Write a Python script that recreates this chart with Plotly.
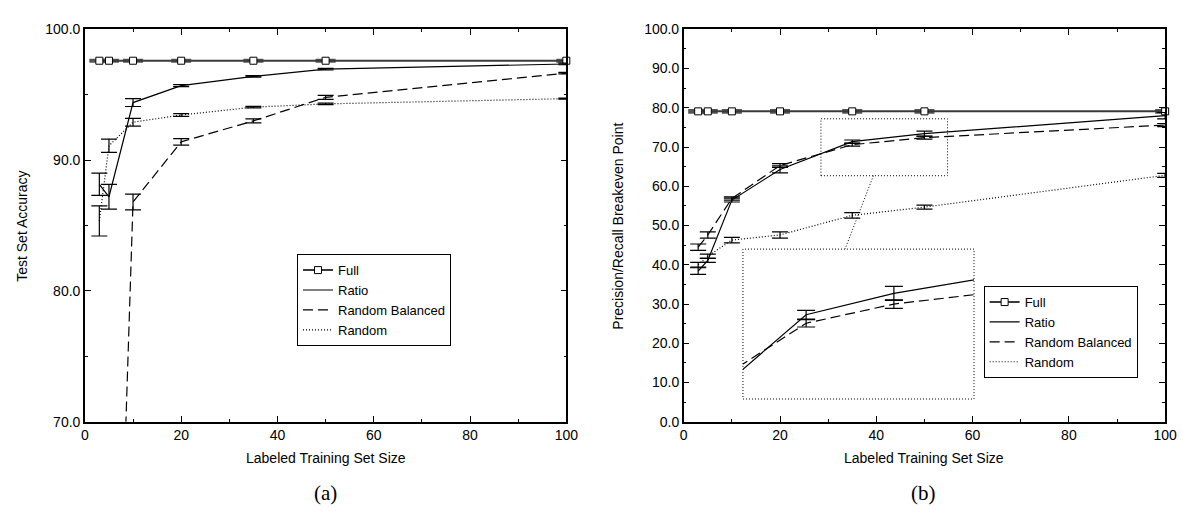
import plotly.graph_objects as go

W, H = 1189, 517

# ---------------- data ----------------
sizes = [3, 5, 10, 20, 35, 50, 100]

# (a) Test set accuracy
acc_full = [97.6, 97.6, 97.6, 97.6, 97.6, 97.6, 97.6]
acc_full_err = [0.06, 0.06, 0.06, 0.06, 0.06, 0.06, 0.06]
acc_ratio = [88.15, 87.2, 94.4, 95.7, 96.4, 96.95, 97.35]
acc_ratio_err = [0.85, 0.95, 0.3, 0.08, 0.06, 0.06, 0.06]
acc_rb = [25.0, 30.0, 86.8, 91.4, 93.0, 94.8, 96.65]
acc_rb_err = [1.0, 1.0, 0.6, 0.25, 0.15, 0.15, 0.06]
acc_random = [85.35, 91.1, 92.9, 93.45, 94.05, 94.3, 94.7]
acc_random_err = [1.15, 0.5, 0.3, 0.1, 0.06, 0.06, 0.04]

# (b) Precision/recall breakeven point
pr_full = [79.1, 79.1, 79.1, 79.1, 79.1, 79.1, 79.1]
pr_full_err = [0.3, 0.3, 0.3, 0.3, 0.3, 0.3, 0.3]
pr_ratio = [38.4, 41.1, 56.5, 64.3, 71.4, 73.4, 78.0]
pr_ratio_err = [0.85, 0.5, 0.5, 0.9, 0.4, 0.65, 0.8]
pr_rb = [44.5, 47.6, 56.9, 65.3, 70.6, 72.4, 75.6]
pr_rb_err = [0.8, 0.8, 0.4, 0.5, 0.35, 0.4, 0.4]
pr_random = [40.0, 42.2, 46.3, 47.6, 52.6, 54.7, 62.8]
pr_random_err = [0.6, 0.5, 0.7, 0.8, 0.7, 0.5, 0.5]

series_names = ["Full", "Ratio", "Random Balanced", "Random"]
x_ticks = [0, 20, 40, 60, 80, 100]

# zoom box (data coords of panel b) and inset box (data coords of panel b)
zoom_box_x = [28.5, 54.8]
zoom_box_y = [62.7, 77.2]
inset_box_x = [12.3, 60.3]
inset_box_y = [5.8, 44.0]
inset_range_x = [24.2, 63.7]
inset_range_y = [63.5, 77.55]

# ---------------- layout geometry (pixels) ----------------
A_X = (82, 570)
B_X = (689, 1177)
P_Y = (22, 427)   # top, bottom


def px_x(p):
    return p / W


def px_y(p):
    return 1 - p / H


dom_a = [px_x(A_X[0]), px_x(A_X[1])]
dom_b = [px_x(B_X[0]), px_x(B_X[1])]
dom_y = [px_y(P_Y[1]), px_y(P_Y[0])]


def b_to_paper_x(v):
    return px_x(B_X[0] + (B_X[1] - B_X[0]) * v / 100.0)


def b_to_paper_y(v):
    return px_y(P_Y[1] - (P_Y[1] - P_Y[0]) * v / 100.0)


inset_dom_x = [b_to_paper_x(inset_box_x[0]), b_to_paper_x(inset_box_x[1])]
inset_dom_y = [b_to_paper_y(inset_box_y[0]), b_to_paper_y(inset_box_y[1])]

FONT = "Liberation Sans, Arial, sans-serif"

styles = {
    "Full": dict(line=dict(color="#3a3a3a", width=2),
                 marker=dict(symbol="square", size=7, color="white",
                             line=dict(color="black", width=1)),
                 mode="lines+markers"),
    "Ratio": dict(line=dict(color="black", width=1.2), mode="lines"),
    "Random Balanced": dict(line=dict(color="black", width=1.2, dash="10px,5px"), mode="lines"),
    "Random": dict(line=dict(color="black", width=1.2, dash="1px,2px"), mode="lines"),
}

fig = go.Figure()


def add_series(name, ys, errs, xa, ya, legend, showlegend, capw=8):
    st = styles[name]
    ecol = "#555555" if name == "Full" else "black"
    eth = 2.5 if name == "Full" else 1.2
    kw = dict(x=sizes, y=ys, name=name, mode=st["mode"], line=st["line"],
              error_y=dict(type="data", array=errs, visible=True, color=ecol,
                           thickness=eth, width=capw if name != "Full" else 10),
              xaxis=xa, yaxis=ya, showlegend=showlegend, legend=legend,
              cliponaxis=(name != "Full"))
    if "marker" in st:
        kw["marker"] = st["marker"]
    fig.add_trace(go.Scatter(**kw))


# panel (a)
for nm, ys, es in [("Full", acc_full, acc_full_err), ("Ratio", acc_ratio, acc_ratio_err),
                   ("Random Balanced", acc_rb, acc_rb_err), ("Random", acc_random, acc_random_err)]:
    add_series(nm, ys, es, "x", "y", "legend", True)

# panel (b)
for nm, ys, es in [("Full", pr_full, pr_full_err), ("Ratio", pr_ratio, pr_ratio_err),
                   ("Random Balanced", pr_rb, pr_rb_err), ("Random", pr_random, pr_random_err)]:
    add_series(nm, ys, es, "x2", "y2", "legend2", True)

# inset (zoom of panel b)
for nm, ys, es in [("Ratio", pr_ratio, pr_ratio_err), ("Random Balanced", pr_rb, pr_rb_err)]:
    add_series(nm, ys, es, "x3", "y3", "legend", False, capw=9)

axis_common = dict(showline=True, linecolor="black", linewidth=1.5, mirror="allticks",
                   ticks="inside", ticklen=6, tickwidth=1.2, tickcolor="black",
                   showgrid=False, zeroline=False,
                   tickfont=dict(family=FONT, size=14, color="black"))

xa = dict(axis_common, range=[0, 100], tickvals=x_ticks, ticktext=[str(v) for v in x_ticks],
          minor=dict(dtick=10, tick0=0, ticks="inside", ticklen=3, tickcolor="black", showgrid=False))

leg_common = dict(xanchor="left", yanchor="top", bgcolor="white", bordercolor="black",
                  borderwidth=1, font=dict(family=FONT, size=13), itemwidth=30, tracegroupgap=0)

fig.update_layout(
    width=W, height=H,
    margin=dict(l=0, r=0, t=0, b=0),
    paper_bgcolor="white", plot_bgcolor="white",
    font=dict(family=FONT, size=14, color="black"),
    xaxis=dict(xa, domain=dom_a, anchor="y"),
    yaxis=dict(axis_common, domain=dom_y, anchor="x", range=[70, 100], dtick=10, tick0=0,
               tickformat=".1f",
               minor=dict(dtick=5, tick0=0, ticks="inside", ticklen=3, tickcolor="black", showgrid=False)),
    xaxis2=dict(xa, domain=dom_b, anchor="y2"),
    yaxis2=dict(axis_common, domain=dom_y, anchor="x2", range=[0, 100], dtick=10, tick0=0,
                tickformat=".1f",
                minor=dict(dtick=5, tick0=0, ticks="inside", ticklen=3, tickcolor="black", showgrid=False)),
    xaxis3=dict(domain=inset_dom_x, anchor="y3", range=inset_range_x, visible=False),
    yaxis3=dict(domain=inset_dom_y, anchor="x3", range=inset_range_y, visible=False),
    legend=dict(leg_common, x=px_x(297), y=px_y(254)),
    legend2=dict(leg_common, x=px_x(993), y=px_y(287)),
    showlegend=True,
)

# zoom rectangle, inset frame and connector (dotted)
dot = dict(color="black", width=1, dash="1px,2px")
fig.add_shape(type="rect", xref="x2", yref="y2", x0=zoom_box_x[0], x1=zoom_box_x[1],
              y0=zoom_box_y[0], y1=zoom_box_y[1], line=dot, layer="above")
fig.add_shape(type="rect", xref="x2", yref="y2", x0=inset_box_x[0], x1=inset_box_x[1],
              y0=inset_box_y[0], y1=inset_box_y[1], line=dot, layer="above")
fig.add_shape(type="line", xref="x2", yref="y2", x0=39.4, y0=zoom_box_y[0],
              x1=33.5, y1=inset_box_y[1], line=dot, layer="above")

# axis titles and panel labels
ann = [
    dict(text="Labeled Training Set Size", x=(px_x(A_X[0]) + px_x(A_X[1])) / 2, y=px_y(464)),
    dict(text="Labeled Training Set Size", x=(px_x(B_X[0]) + px_x(B_X[1])) / 2, y=px_y(464)),
    dict(text="Test Set Accuracy", x=px_x(18), y=px_y(225), textangle=-90),
    dict(text="Precision/Recall Breakeven Point", x=px_x(622), y=px_y(225), textangle=-90),
]
for a in ann:
    fig.add_annotation(xref="paper", yref="paper", showarrow=False,
                       xanchor="center", yanchor="middle",
                       font=dict(family=FONT, size=14, color="black"), **a)
for lab, cx in [("(a)", 326), ("(b)", 932)]:
    fig.add_annotation(text=lab, xref="paper", yref="paper", x=px_x(cx), y=px_y(500),
                       showarrow=False, xanchor="center", yanchor="middle",
                       font=dict(family="Liberation Serif, Times New Roman, serif", size=21, color="black"))

fig.write_html("out.html")
